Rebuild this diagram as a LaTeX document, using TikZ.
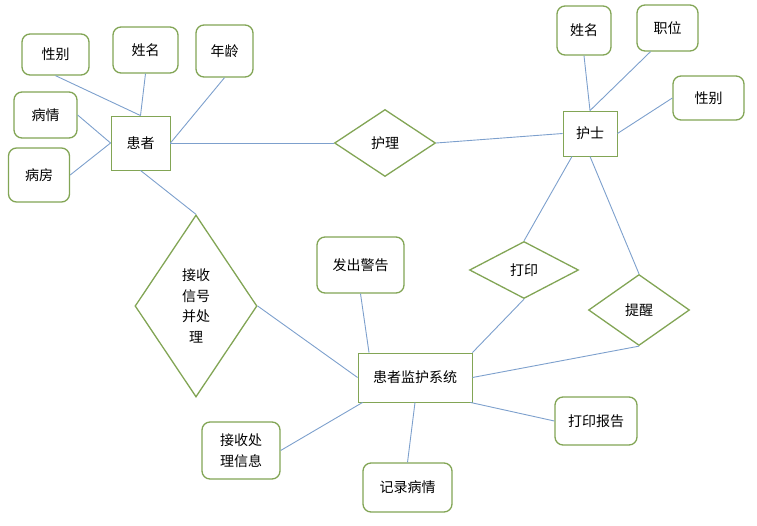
\documentclass[tikz,border=0pt]{standalone}
\usepackage{fontspec}
\setmainfont{Noto Sans CJK SC}
\usetikzlibrary{shapes.geometric}
\definecolor{boxgreen}{RGB}{130,165,85}
\definecolor{linkblue}{RGB}{125,160,205}
\tikzset{
  every node/.style={font=\fontsize{14}{20.5}\selectfont, text=black},
  attr/.style={draw=boxgreen, line width=1.3pt, rounded corners=8pt, fill=white, inner sep=0pt, align=center},
  entity/.style={draw=boxgreen, line width=0.9pt, fill=white, inner sep=0pt, align=center},
  rel/.style={diamond, draw=boxgreen, line width=1.3pt, fill=white, inner sep=0pt, align=center},
  link/.style={draw=linkblue, line width=0.9pt},
}
\begin{document}
\begin{tikzpicture}[x=1pt,y=-1pt]
\useasboundingbox (0,0) rectangle (757,525);
% patient
\node[entity, minimum width=59pt, minimum height=54pt] (hz) at (140.5,143) {患者};
\node[attr, minimum width=67pt, minimum height=41pt] (xb1) at (55.5,54.5) {性别};
\node[attr, minimum width=65pt, minimum height=46pt] (xm1) at (145.5,50) {姓名};
\node[attr, minimum width=57pt, minimum height=52pt] (nl) at (224.5,51) {年龄};
\node[attr, minimum width=63pt, minimum height=46pt] (bq) at (45.5,115) {病情};
\node[attr, minimum width=61pt, minimum height=54pt] (bf) at (39,175) {病房};
% nurse
\node[entity, minimum width=54pt, minimum height=45pt] (hs) at (590,133.5) {护士};
\node[attr, minimum width=54pt, minimum height=49pt] (xm2) at (584,30.5) {姓名};
\node[attr, minimum width=61pt, minimum height=46pt] (zw) at (667.5,28) {职位};
\node[attr, minimum width=71pt, minimum height=44pt] (xb2) at (708.5,98) {性别};
% relations
\node[rel, minimum width=101pt, minimum height=67pt] (hl) at (385,143) {护理};
\node[rel, minimum width=109pt, minimum height=57pt] (dy) at (524,270) {打印};
\node[rel, minimum width=101pt, minimum height=71pt] (tx) at (639,310) {提醒};
\node[rel, minimum width=122pt, minimum height=182pt] (js) at (196,306) {接收\\信号\\并处\\理};
% system
\node[entity, minimum width=114pt, minimum height=49pt] (sys) at (415,377.5) {患者监护系统};
\node[attr, minimum width=87pt, minimum height=56pt] (jg) at (360.5,265) {发出警告};
\node[attr, minimum width=78pt, minimum height=57pt] (jx) at (241,450.5) {接收处\\理信息};
\node[attr, minimum width=89pt, minimum height=49pt] (jl) at (407.5,487.5) {记录病情};
\node[attr, minimum width=82pt, minimum height=48pt] (db) at (596,421) {打印报告};
% connectors
\draw[link] (xb1.south) -- (hz.north);
\draw[link] (xm1.south) -- (hz.north);
\draw[link] (nl.south) -- (hz.east);
\draw[link] (bq.east) -- (hz.west);
\draw[link] (bf.east) -- (hz.west);
\draw[link] (hz.east) -- (hl.west);
\draw[link] (hz.south) -- (js.north);
\draw[link] (hl.east) -- (hs.west);
\draw[link] (xm2.south) -- (hs.north);
\draw[link] ([xshift=-17pt]zw.south) -- (hs.north);
\draw[link] (xb2.west) -- (hs.east);
\draw[link] ([xshift=-18pt]hs.south) -- (dy.north);
\draw[link] (hs.south) -- (tx.north);
\draw[link] (dy.south) -- (sys.north east);
\draw[link] (tx.south) -- (sys.east);
\draw[link] (js.east) -- (sys.west);
\draw[link] (jg.south) -- ([xshift=-46pt]sys.north);
\draw[link] ([xshift=5pt]sys.south west) -- (jx.east);
\draw[link] (sys.south) -- (jl.north);
\draw[link] ([xshift=-2pt]sys.south east) -- (db.west);
\end{tikzpicture}
\end{document}
